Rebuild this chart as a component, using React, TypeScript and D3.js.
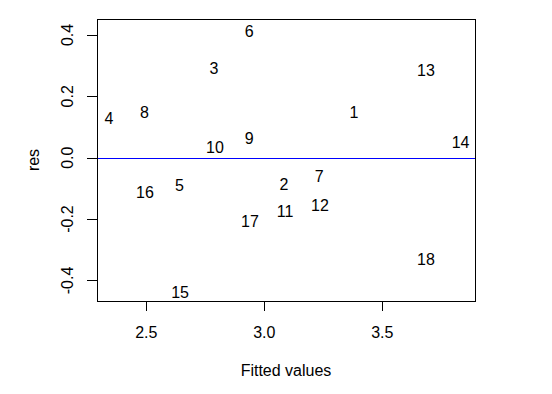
import React from "react";
import * as d3 from "d3";

const obsLabels = ["1", "2", "3", "4", "5", "6", "7", "8", "9", "10", "11", "12", "13", "14", "15", "16", "17", "18"];
const fitted = [3.38, 3.083, 2.787, 2.342, 2.64, 2.936, 3.233, 2.492, 2.936, 2.791, 3.088, 3.236, 3.685, 3.832, 2.643, 2.494, 2.939, 3.685];
const residuals = [0.148, -0.086, 0.291, 0.128, -0.089, 0.411, -0.062, 0.148, 0.065, 0.033, -0.176, -0.154, 0.286, 0.049, -0.44, -0.111, -0.206, -0.33];

const xTicks = [2.5, 3.0, 3.5];
const yTicks = [-0.4, -0.2, 0.0, 0.2, 0.4];

const W = 552;
const H = 394;
const box = { left: 97, right: 475, top: 19, bottom: 301 };
const font = "'Liberation Sans', Arial, sans-serif";

export default function App() {
  const x = d3.scaleLinear().domain([2.291, 3.893]).range([box.left, box.right]);
  const y = d3.scaleLinear().domain([-0.467, 0.452]).range([box.bottom, box.top]);
  const midY = (box.top + box.bottom) / 2;
  const midX = (box.left + box.right) / 2;
  const zeroY = Math.round(y(0)) + 0.5;

  return (
    <svg
      width={W}
      height={H}
      style={{ position: "absolute", left: 0, top: 0, background: "#fff" }}
      fontFamily={font}
      fontSize={16}
    >
      <rect x={0} y={0} width={W} height={H} fill="#fff" />
      {/* zero reference line */}
      <line
        x1={box.left}
        x2={box.right}
        y1={zeroY}
        y2={zeroY}
        stroke="#0000ff"
        strokeWidth={1}
        shapeRendering="crispEdges"
      />

      {obsLabels.map((lab, i) => (
        <text key={lab} x={x(fitted[i])} y={y(residuals[i])} dy="0.36em" textAnchor="middle" fill="#000">
          {lab}
        </text>
      ))}

      <rect
        x={box.left + 0.5}
        y={box.top + 0.5}
        width={box.right - box.left}
        height={box.bottom - box.top}
        fill="none"
        stroke="#000"
        strokeWidth={1}
        shapeRendering="crispEdges"
      />

      {/* x axis */}
      {xTicks.map((t) => (
        <g key={"x" + t}>
          <line
            x1={Math.round(x(t)) + 0.5}
            x2={Math.round(x(t)) + 0.5}
            y1={box.bottom}
            y2={box.bottom + 10}
            stroke="#000"
            shapeRendering="crispEdges"
          />
          <text x={x(t)} y={332} dy="0.36em" textAnchor="middle">
            {t.toFixed(1)}
          </text>
        </g>
      ))}

      {/* y axis */}
      {yTicks.map((t) => (
        <g key={"y" + t}>
          <line
            x1={box.left}
            x2={box.left - 10}
            y1={Math.round(y(t)) + 0.5}
            y2={Math.round(y(t)) + 0.5}
            stroke="#000"
            shapeRendering="crispEdges"
          />
          <text
            transform={`translate(67.5,${y(t)}) rotate(-90)`}
            dy="0.36em"
            textAnchor="middle"
          >
            {t.toFixed(1)}
          </text>
        </g>
      ))}

      <text x={midX} y={370} dy="0.36em" textAnchor="middle">
        Fitted values
      </text>
      <text transform={`translate(33,${midY}) rotate(-90)`} dy="0.36em" textAnchor="middle">
        res
      </text>
    </svg>
  );
}
